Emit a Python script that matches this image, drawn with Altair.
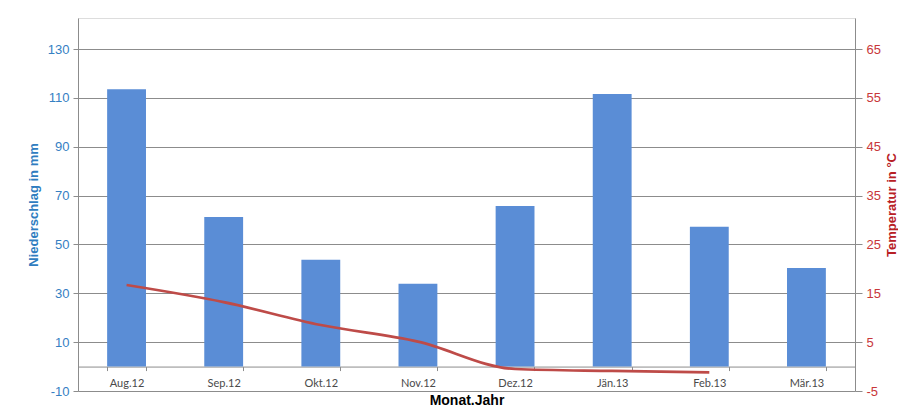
import altair as alt
import pandas as pd

months = ["Aug.12", "Sep.12", "Okt.12", "Nov.12", "Dez.12", "Jän.13", "Feb.13", "Mär.13"]
precip_mm = [113.5, 61.2, 43.7, 33.9, 65.7, 111.6, 57.2, 40.4]
temp_months = ["Aug.12", "Sep.12", "Okt.12", "Nov.12", "Dez.12", "Jän.13", "Feb.13"]
temp_c = [16.7, 13.2, 8.5, 5.1, -0.5, -0.9, -1.2]

left_ticks = [-10, 10, 30, 50, 70, 90, 110, 130]
right_ticks = [-5, 5, 15, 25, 35, 45, 55, 65]
left_domain = [-10, 142.7]
right_domain = [-5, 71.35]

W, H = 777, 373
zero_offset = -H * (0 - left_domain[0]) / (left_domain[1] - left_domain[0])

bars_df = pd.DataFrame({"Monat": months, "Niederschlag": precip_mm})
temp_df = pd.DataFrame({"Monat": temp_months, "Temperatur": temp_c})

FONT = "Liberation Sans"
BLUE_TXT = "#3580C3"
RED_TXT = "#C8373A"
GRID = "#8C8C8C"

xenc = alt.X(
    "Monat:N",
    sort=months,
    scale=alt.Scale(domain=months, paddingInner=0.6, paddingOuter=0.3),
    axis=alt.Axis(
        title="Monat.Jahr",
        titleFont=FONT,
        titleFontSize=14,
        titleFontWeight="bold",
        titleColor="#000000",
        titlePadding=5,
        labelFont="Lato",
        labelFontSize=11,
        labelColor="#4A4A4A",
        labelAngle=0,
        labelPadding=7,
        offset=zero_offset,
        domainColor=GRID,
        tickColor=GRID,
        tickSize=4,
        tickBand="extent",
        grid=False,
    ),
)

bars = alt.Chart(bars_df).mark_bar(color="#5A8DD6").encode(
    x=xenc,
    y=alt.Y(
        "Niederschlag:Q",
        scale=alt.Scale(domain=left_domain, nice=False, zero=False),
        axis=alt.Axis(
            title="Niederschlag in mm",
            titleFont=FONT,
            titleFontSize=13,
            titleFontWeight="bold",
            titleColor="#2F7DC0",
            titlePadding=7,
            labelFont=FONT,
            labelFontSize=13,
            labelColor=BLUE_TXT,
            labelPadding=4,
            labelExpr="datum.value + ''",
            values=left_ticks,
            tickSize=5,
            tickColor=GRID,
            domainColor=GRID,
            grid=True,
            gridColor=GRID,
            gridWidth=1,
        ),
    ),
)

line = alt.Chart(temp_df).mark_line(
    color="#BE4B48", strokeWidth=2.7, interpolate="monotone"
).encode(
    x=alt.X("Monat:N", sort=months),
    y=alt.Y(
        "Temperatur:Q",
        scale=alt.Scale(domain=right_domain, nice=False, zero=False),
        axis=alt.Axis(
            orient="right",
            title="Temperatur in °C",
            titleFont=FONT,
            titleFontSize=13,
            titleFontWeight="bold",
            titleColor="#B82025",
            titleAngle=270,
            titleBaseline="top",
            titlePadding=5,
            labelFont=FONT,
            labelFontSize=13,
            labelColor=RED_TXT,
            labelPadding=4,
            labelExpr="datum.value + ''",
            values=right_ticks,
            tickSize=7,
            tickColor=GRID,
            domainColor=GRID,
            grid=False,
        ),
    ),
)

chart = (
    alt.layer(bars, line)
    .resolve_scale(y="independent")
    .properties(
        width=W,
        height=H,
        autosize=alt.AutoSizeParams(type="none"),
        padding={"left": 70, "top": 10, "right": 43, "bottom": 18},
    )
    .configure_view(stroke=None)
    .configure(background="white")
)

chart.save("out.html", embed_options={"renderer": "svg", "actions": False})
